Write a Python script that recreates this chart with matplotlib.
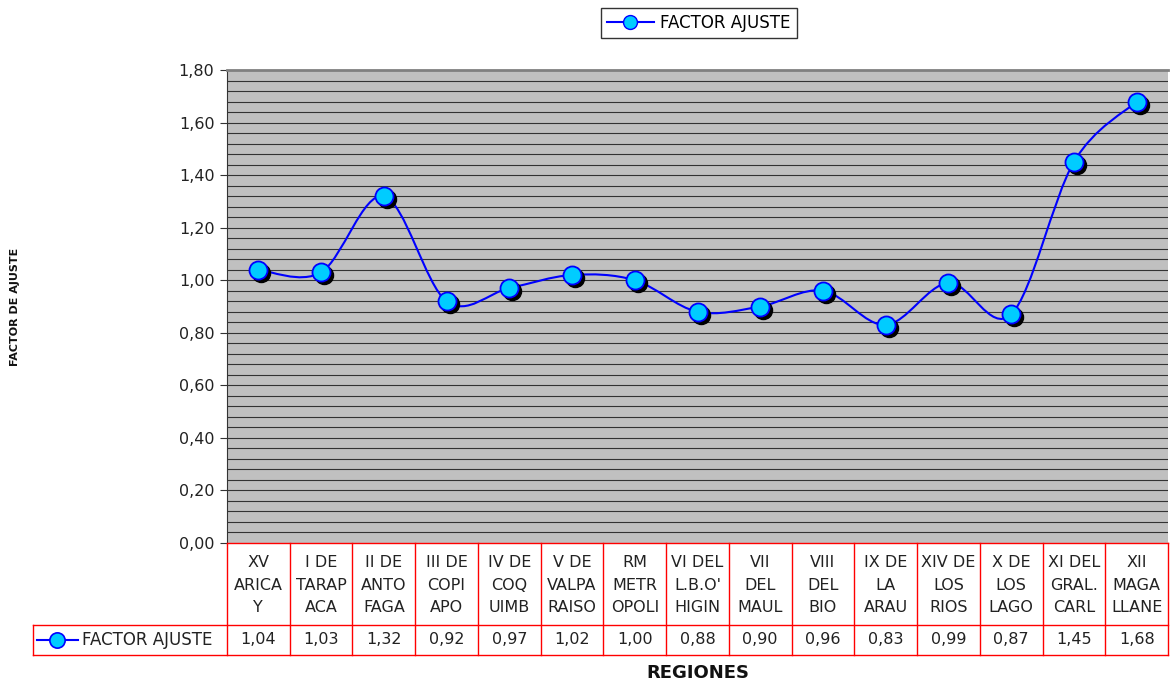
import numpy as np
import matplotlib
matplotlib.use('Agg')
import matplotlib.pyplot as plt
import matplotlib.transforms as mtransforms
from matplotlib.path import Path
from matplotlib.patches import PathPatch
from matplotlib.lines import Line2D

# Data
regions = ["XV\nARICA\nY", "I DE\nTARAP\nACA", "II DE\nANTO\nFAGA", "III DE\nCOPI\nAPO",
           "IV DE\nCOQ\nUIMB", "V DE\nVALPA\nRAISO", "RM\nMETR\nOPOLI", "VI DEL\nL.B.O'\nHIGIN",
           "VII\nDEL\nMAUL", "VIII\nDEL\nBIO", "IX DE\nLA\nARAU", "XIV DE\nLOS\nRIOS",
           "X DE\nLOS\nLAGO", "XI DEL\nGRAL.\nCARL", "XII\nMAGA\nLLANE"]
factor = [1.04, 1.03, 1.32, 0.92, 0.97, 1.02, 1.00, 0.88, 0.90, 0.96, 0.83, 0.99, 0.87, 1.45, 1.68]
yticks = [0.0, 0.2, 0.4, 0.6, 0.8, 1.0, 1.2, 1.4, 1.6, 1.8]
series_name = 'FACTOR AJUSTE'

plt.rcParams['font.family'] = 'DejaVu Sans'
W, H = 1170, 683
fig = plt.figure(figsize=(W / 100, H / 100), dpi=100)

# pixel layout (from top-left)
px_left, px_right, px_top, px_bottom = 227, 1168, 70, 543
row1_bottom, row2_bottom, tbl_left = 625, 655, 33


def fx(p):
    return p / W


def fy(p):
    return 1 - p / H


ax = fig.add_axes([fx(px_left), fy(px_bottom), fx(px_right - px_left), fy(px_top) - fy(px_bottom)])
ax.set_facecolor('#C0C0C0')
n = len(factor)
x = np.arange(n)
ax.set_xlim(-0.5, n - 0.5)
ax.set_ylim(0, 1.8)

# Gridlines every 0.04
for g in np.arange(0.04, 1.8, 0.04):
    ax.axhline(g, color='#333333', linewidth=0.8, zorder=1)

# Excel-style smoothed line (Bezier with 1/6 tension)
pts = np.column_stack([x, factor]).astype(float)
verts = [pts[0]]
codes = [Path.MOVETO]
for i in range(n - 1):
    p0 = pts[max(i - 1, 0)]
    p1 = pts[i]
    p2 = pts[i + 1]
    p3 = pts[min(i + 2, n - 1)]
    c1 = p1 + (p2 - p0) / 6
    c2 = p2 - (p3 - p1) / 6
    verts += [c1, c2, p2]
    codes += [Path.CURVE4] * 3
ax.add_patch(PathPatch(Path(verts, codes), facecolor='none', edgecolor='#0000FF', linewidth=1.5, zorder=3))

# Marker shadows and markers
shadow = mtransforms.offset_copy(ax.transData, fig=fig, x=3, y=-3, units='dots')
ax.plot(x, factor, 'o', color='black', markersize=13, transform=shadow, zorder=4)
ax.plot(x, factor, 'o', markerfacecolor='#00CCFF', markeredgecolor='#0000FF', markeredgewidth=1.3,
        markersize=13, linestyle='none', zorder=5)

ax.set_yticks(yticks)
ax.set_yticklabels([f'{v:.2f}'.replace('.', ',') for v in yticks], fontsize=11.5, color='#222222')
ax.set_xticks([])
ax.tick_params(axis='y', length=5, color='#333333', pad=4)
ax.spines['right'].set_visible(False)
ax.spines['bottom'].set_visible(False)
ax.spines['left'].set_color('#333333')
ax.spines['top'].set_color('#808080')
ax.spines['top'].set_linewidth(2)

# Data table
colw = (px_right - px_left) / n
red = '#FF0000'
lines = []
lines.append(([px_left, px_right], [px_bottom, px_bottom]))
lines.append(([tbl_left, px_right], [row1_bottom, row1_bottom]))
lines.append(([tbl_left, px_right], [row2_bottom, row2_bottom]))
lines.append(([tbl_left, tbl_left], [row1_bottom, row2_bottom]))
for i in range(n + 1):
    xp = px_left + i * colw
    lines.append(([xp, xp], [px_bottom, row2_bottom]))
for lx, ly in lines:
    fig.add_artist(Line2D([fx(v) for v in lx], [fy(v) for v in ly], color=red, linewidth=1.0))

for i, (lab, val) in enumerate(zip(regions, factor)):
    cx = px_left + (i + 0.5) * colw
    fig.text(fx(cx), fy((px_bottom + row1_bottom) / 2 + 1), lab, ha='center', va='center',
             fontsize=11.5, color='#222222', linespacing=1.6)
    fig.text(fx(cx), fy((row1_bottom + row2_bottom) / 2), f'{val:.2f}'.replace('.', ','),
             ha='center', va='center', fontsize=11.5, color='#222222')

# legend key in table
ky = fy((row1_bottom + row2_bottom) / 2)
fig.add_artist(Line2D([fx(37), fx(78)], [ky, ky], color='#0000FF', linewidth=1.5))
fig.add_artist(Line2D([fx(57)], [ky], marker='o', markersize=11, markerfacecolor='#00CCFF',
                      markeredgecolor='#0000FF', markeredgewidth=1.2))
fig.text(fx(82), ky, series_name, ha='left', va='center', fontsize=12, color='#222222')

# Top legend
leg = ax.legend(handles=[Line2D([], [], color='#0000FF', linewidth=1.5, marker='o', markersize=10,
                                markerfacecolor='#00CCFF', markeredgecolor='#0000FF')],
                labels=[series_name], loc='center', bbox_to_anchor=(fx(699), fy(23)),
                bbox_transform=fig.transFigure, fancybox=False, framealpha=1, edgecolor='#333333',
                fontsize=12, handlelength=2.8, borderpad=0.35, handletextpad=0.4)
leg.get_frame().set_linewidth(1.0)

# Axis titles
fig.text(fx(15), fy((px_top + px_bottom) / 2), 'FACTOR DE AJUSTE', rotation=90, ha='center', va='center',
         fontsize=8, fontweight='bold', color='#111111')
fig.text(fx(698), fy(673), 'REGIONES', ha='center', va='center', fontsize=13, fontweight='bold',
         color='#111111')

fig.savefig('out.png', dpi=100)
